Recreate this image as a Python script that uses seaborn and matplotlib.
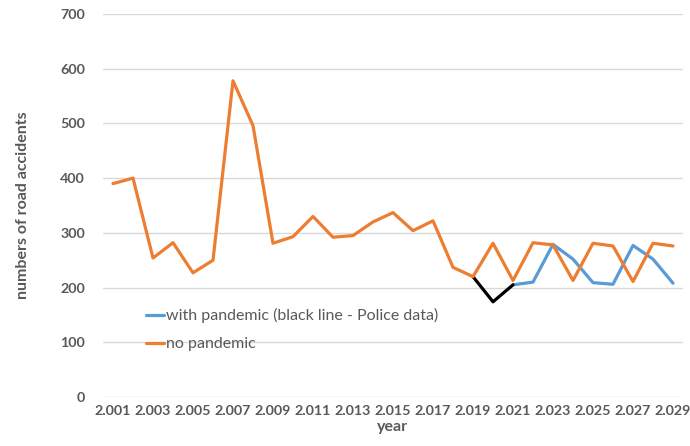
import pandas as pd
import numpy as np
import matplotlib.pyplot as plt
import seaborn as sns

years = list(range(2001, 2030))
no_pandemic = [390, 400, 254, 282, 227, 250, 578, 496, 281, 293, 330, 292, 295, 320, 337,
               304, 322, 237, 220, 281, 213, 282, 278, 213, 281, 276, 211, 281, 276]
police_years = [2019, 2020, 2021]
police_data = [220, 174, 205]
pandemic_years = list(range(2021, 2030))
with_pandemic = [205, 210, 279, 252, 209, 206, 277, 252, 208]

tick_years = list(range(2001, 2030, 2))
tick_labels = ["2.{:03d}".format(y - 2000) for y in tick_years]

sns.set_style("white")
plt.rcParams['font.family'] = ['Lato', 'DejaVu Sans']

df_no = pd.DataFrame({'year': years, 'accidents': no_pandemic})
df_police = pd.DataFrame({'year': police_years, 'accidents': police_data})
df_with = pd.DataFrame({'year': pandemic_years, 'accidents': with_pandemic})

fig = plt.figure(figsize=(6.9, 4.46), dpi=100)
ax = fig.add_axes([103 / 690, 1 - 397 / 446, 580 / 690, 383 / 446])

sns.lineplot(data=df_with, x='year', y='accidents', color='#5B9BD5', linewidth=2.3,
             label='with pandemic (black line - Police data)', ax=ax, zorder=2)
sns.lineplot(data=df_police, x='year', y='accidents', color='black', linewidth=2.3,
             ax=ax, zorder=2)
sns.lineplot(data=df_no, x='year', y='accidents', color='#ED7D31', linewidth=2.3,
             label='no pandemic', ax=ax, zorder=3)

ax.set_xlim(2000.5, 2029.5)
ax.set_ylim(0, 700)
ax.set_yticks(range(0, 701, 100))
ax.set_xticks(tick_years)
ax.set_xticklabels(tick_labels)
ax.grid(axis='y', color='#D9D9D9', linewidth=1)
ax.set_axisbelow(True)
for s in ax.spines.values():
    s.set_visible(False)
ax.tick_params(axis='both', length=0, labelsize=10.3, labelcolor='#595959')
ax.tick_params(axis='y', pad=13)
ax.tick_params(axis='x', pad=6)
for t in ax.get_xticklabels() + ax.get_yticklabels():
    t.set_fontweight('bold')

ax.set_xlabel('year', fontsize=11.5, fontweight='bold', color='#595959', labelpad=2)
ax.set_ylabel('numbers of road accidents', fontsize=11.5, fontweight='bold', color='#595959',
              labelpad=22)

leg = ax.legend(loc='lower left', bbox_to_anchor=(0.05, 0.082), frameon=False, fontsize=11.5,
                handlelength=1.1, handletextpad=0.1, labelspacing=0.85, labelcolor='#595959')

fig.savefig('out.png', dpi=100)
